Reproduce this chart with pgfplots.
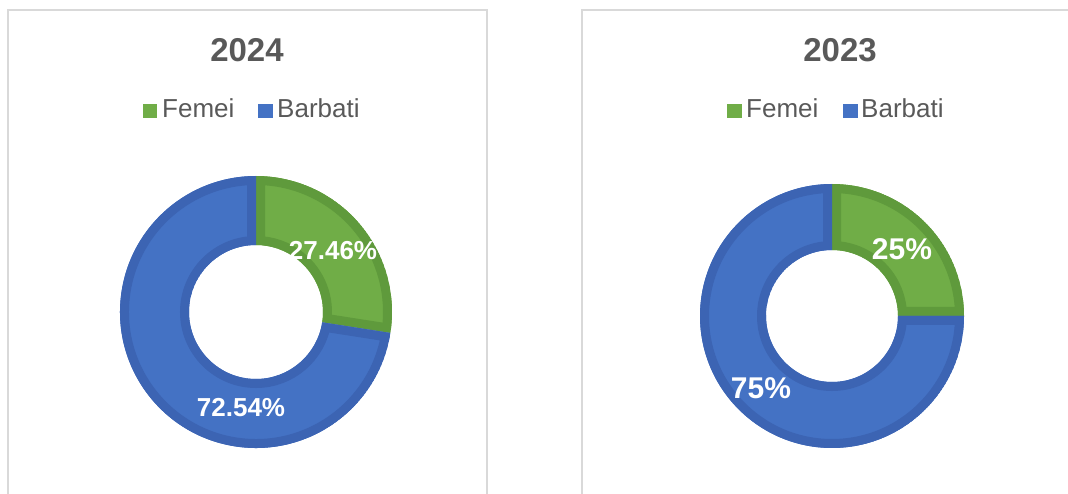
\documentclass[border=0pt]{standalone}
\usepackage{pgfplots}
\pgfplotsset{compat=1.18}
\usepackage{pgfplotstable}
\usepackage{fontspec}
\setmainfont{Liberation Sans}
\definecolor{cgreen}{HTML}{70AD47}
\definecolor{cgreenD}{HTML}{5F9A3C}
\definecolor{cblue}{HTML}{4472C4}
\definecolor{cblueD}{HTML}{3C64B3}
\definecolor{ctext}{HTML}{595959}
\definecolor{cframe}{HTML}{D9D9D9}

\pgfplotstableread{
gender value
Femei 27.46
Barbati 72.54
}\dataA
\pgfplotstableread{
gender value
Femei 25
Barbati 75
}\dataB

\pgfplotstablegetelem{0}{value}\of\dataA \let\fA\pgfplotsretval
\pgfplotstablegetelem{0}{value}\of\dataB \let\fB\pgfplotsretval
\pgfmathsetmacro\aA{90-3.6*\fA}
\pgfmathsetmacro\aB{90-3.6*\fB}

% annular sector path: start angle, end angle, outer r, inner r
\newcommand{\slicepath}[4]{(axis cs:{#3*cos(#1)},{#3*sin(#1)}) arc[start angle=#1, end angle=#2, radius=#3pt] -- (axis cs:{#4*cos(#2)},{#4*sin(#2)}) arc[start angle=#2, end angle=#1, radius=#4pt] -- cycle}
\newcommand{\slice}[6]{%
  \begin{scope}
    \clip \slicepath{#1}{#2}{#3}{#4};
    \fill[#5] \slicepath{#1}{#2}{#3}{#4};
    \draw[#6, line width=18pt] \slicepath{#1}{#2}{#3}{#4};
  \end{scope}}

\begin{document}
\begin{tikzpicture}
\useasboundingbox (0pt,0pt) rectangle (1068pt,-494pt);
% frames
\draw[cframe, line width=2pt] (8pt,-10pt) rectangle (487pt,-520pt);
\draw[cframe, line width=2pt] (582pt,-10pt) rectangle (1100pt,-520pt);

% titles
\node[anchor=base, inner sep=0pt, text=ctext, font=\fontsize{33}{33}\selectfont\bfseries] at (247pt,-62pt) {2024};
\node[anchor=base, inner sep=0pt, text=ctext, font=\fontsize{33}{33}\selectfont\bfseries] at (840pt,-62pt) {2023};

% legends
\fill[cgreen] (143pt,-104pt) rectangle (157pt,-118pt);
\node[anchor=base west, inner sep=0pt, text=ctext, font=\fontsize{26}{26}\selectfont] at (162pt,-118pt) {Femei};
\fill[cblue] (258pt,-104pt) rectangle (273pt,-118pt);
\node[anchor=base west, inner sep=0pt, text=ctext, font=\fontsize{26}{26}\selectfont] at (277pt,-118pt) {Barbati};

\fill[cgreen] (727pt,-104pt) rectangle (742pt,-118pt);
\node[anchor=base west, inner sep=0pt, text=ctext, font=\fontsize{26}{26}\selectfont] at (746pt,-118pt) {Femei};
\fill[cblue] (843pt,-104pt) rectangle (858pt,-118pt);
\node[anchor=base west, inner sep=0pt, text=ctext, font=\fontsize{26}{26}\selectfont] at (861pt,-118pt) {Barbati};

% donut 2024
\begin{axis}[at={(256pt,-312pt)}, anchor=origin, x=1pt, y=1pt,
  xmin=-140, xmax=140, ymin=-140, ymax=140, hide axis, clip=false]
  \slice{90}{\aA}{136}{67}{cgreen}{cgreenD}
  \slice{\aA}{-270}{136}{67}{cblue}{cblueD}
  \node[text=white, font=\fontsize{26}{26}\selectfont\bfseries] at (axis cs:77,61) {27.46\%};
  \node[text=white, font=\fontsize{26}{26}\selectfont\bfseries] at (axis cs:-15,-96) {72.54\%};
\end{axis}

% donut 2023
\begin{axis}[at={(832pt,-316pt)}, anchor=origin, x=1pt, y=1pt,
  xmin=-140, xmax=140, ymin=-140, ymax=140, hide axis, clip=false]
  \slice{90}{\aB}{132}{66}{cgreen}{cgreenD}
  \slice{\aB}{-270}{132}{66}{cblue}{cblueD}
  \node[text=white, font=\fontsize{30}{30}\selectfont\bfseries] at (axis cs:70,67) {25\%};
  \node[text=white, font=\fontsize{30}{30}\selectfont\bfseries] at (axis cs:-71,-72) {75\%};
\end{axis}
\end{tikzpicture}
\end{document}
